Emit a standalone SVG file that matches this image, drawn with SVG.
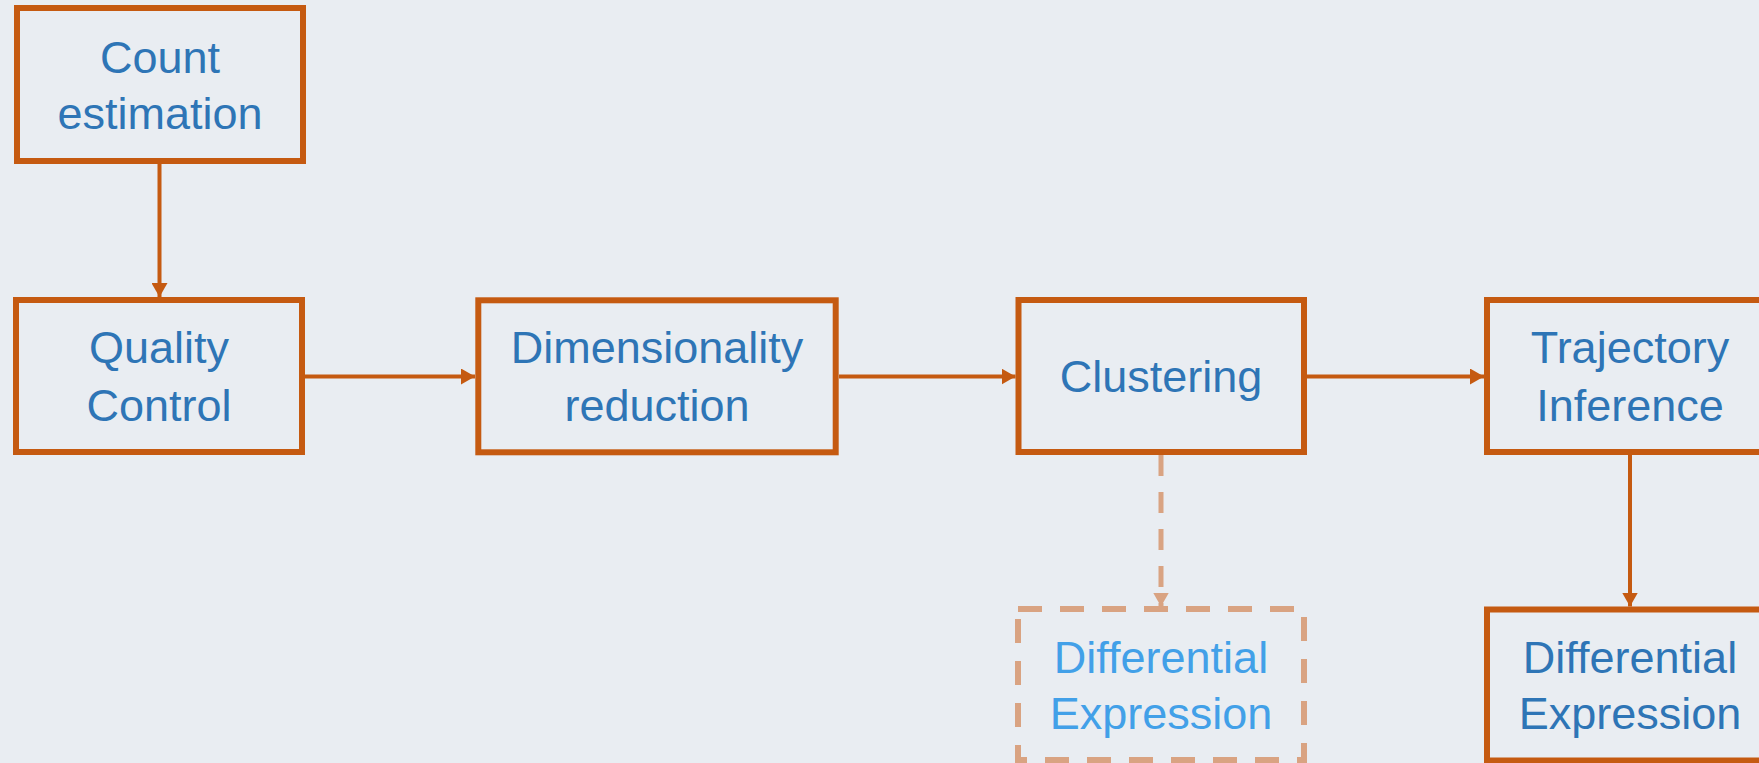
<svg xmlns="http://www.w3.org/2000/svg" width="1759" height="763" viewBox="0 0 1759 763">
<style>
.box{fill:none;stroke:#C55A11;stroke-width:6}
.dbox{fill:none;stroke:#D9A382;stroke-width:6;stroke-dasharray:24 18}
.lbl{font-family:"Liberation Sans",Arial,sans-serif;font-size:45px;fill:#2E75B6;text-anchor:middle}
.lbl2{font-family:"Liberation Sans",Arial,sans-serif;font-size:45px;fill:#42A0E8;text-anchor:middle}
.con{stroke:#C55A11;stroke-width:4;fill:none}
.dcon{stroke:#D9A382;stroke-width:5;fill:none;stroke-dasharray:21 16}
</style>
<defs>
<marker id="ah" markerUnits="userSpaceOnUse" markerWidth="14" markerHeight="16" refX="14" refY="8" orient="auto" viewBox="0 0 14 16">
<path d="M0,0 L14,8 L0,16 Z" fill="#C55A11"/>
</marker>
<marker id="ahd" markerUnits="userSpaceOnUse" markerWidth="14" markerHeight="16" refX="14" refY="8" orient="auto" viewBox="0 0 14 16">
<path d="M0,0 L14,8 L0,16 Z" fill="#D9A382"/>
</marker>
</defs>
<rect x="0" y="0" width="1759" height="763" fill="#E9EDF2"/>
<g id="connectors">
<path class="con" d="M159.5,164 V297" marker-end="url(#ah)"/>
<path class="con" d="M305,376.5 H475" marker-end="url(#ah)"/>
<path class="con" d="M839,376.5 H1015.5" marker-end="url(#ah)"/>
<path class="con" d="M1307,376.5 H1484" marker-end="url(#ah)"/>
<path class="con" d="M1630,455 V606.5" marker-end="url(#ah)"/>
<path class="dcon" d="M1161,455 V606.5" marker-end="url(#ahd)"/>
</g>
<g id="count">
<rect class="box" x="17" y="8" width="286" height="153"/>
<text class="lbl" x="160" y="73">Count</text>
<text class="lbl" x="160" y="129">estimation</text>
</g>
<g id="qc">
<rect class="box" x="16" y="300" width="286" height="152"/>
<text class="lbl" x="159" y="363">Quality</text>
<text class="lbl" x="159" y="421">Control</text>
</g>
<g id="dim">
<rect class="box" x="478.3" y="300.3" width="357.4" height="152"/>
<text class="lbl" x="657" y="363">Dimensionality</text>
<text class="lbl" x="657" y="421">reduction</text>
</g>
<g id="clustering">
<rect class="box" x="1018.5" y="300" width="285.5" height="152"/>
<text class="lbl" x="1161" y="392">Clustering</text>
</g>
<g id="trajectory">
<rect class="box" x="1487" y="300" width="286" height="152"/>
<text class="lbl" x="1630" y="363">Trajectory</text>
<text class="lbl" x="1630" y="421">Inference</text>
</g>
<g id="de-clustering">
<rect class="dbox" x="1018" y="609" width="286" height="151"/>
<text class="lbl2" x="1161" y="673">Differential</text>
<text class="lbl2" x="1161" y="729">Expression</text>
</g>
<g id="de-trajectory">
<rect class="box" x="1487" y="609.5" width="286" height="151"/>
<text class="lbl" x="1630" y="673">Differential</text>
<text class="lbl" x="1630" y="729">Expression</text>
</g>
</svg>
